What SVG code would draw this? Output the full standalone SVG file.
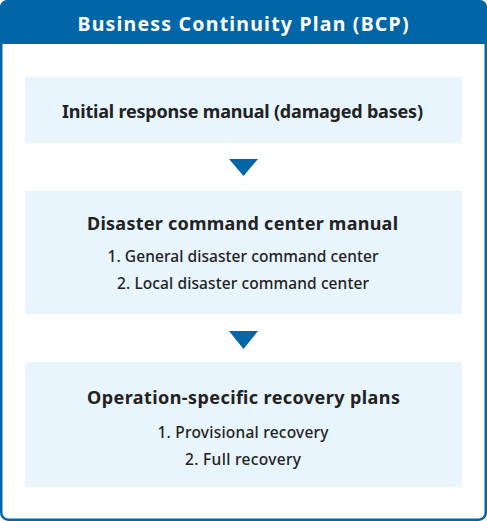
<svg xmlns="http://www.w3.org/2000/svg" width="487" height="521" viewBox="0 0 487 521">
<style>
.frame{fill:#fff;stroke:#0066a8;stroke-width:2.5}
.hdr{fill:#0066a8}
.box{fill:#e8f5fd}
.arrow{fill:#0066a8}
text{font-family:"Noto Sans",sans-serif;text-anchor:middle;fill:#222}
.h{font-size:19.5px;font-weight:700;fill:#fff}
.t{font-size:18px;font-weight:700}
.s{font-size:15.5px;font-weight:500}
</style>
<g id="frame">
<rect class="frame" x="1.25" y="1.25" width="484.5" height="518.5" rx="7"/>
<path class="hdr" d="M0 8 Q0 0 8 0 H479 Q487 0 487 8 V44 H0 Z"/>
<text class="h" x="243" y="31" textLength="331" lengthAdjust="spacing">Business Continuity Plan (BCP)</text>
</g>
<g id="node1">
<rect class="box" x="25" y="77" width="437" height="66"/>
<text class="t" x="242.5" y="117.5" textLength="361" lengthAdjust="spacing">Initial response manual (damaged bases)</text>
</g>
<g id="node2">
<rect class="box" x="25" y="191" width="437" height="123"/>
<text class="t" x="242.5" y="229.5" textLength="311" lengthAdjust="spacing">Disaster command center manual</text>
<text class="s" x="243" y="262" textLength="271" lengthAdjust="spacing">1. General disaster command center</text>
<text class="s" x="243" y="289" textLength="252" lengthAdjust="spacing">2. Local disaster command center</text>
</g>
<g id="node3">
<rect class="box" x="25" y="362" width="437" height="125"/>
<text class="t" x="243.5" y="404" textLength="313" lengthAdjust="spacing">Operation-specific recovery plans</text>
<text class="s" x="243" y="437.5" textLength="171" lengthAdjust="spacing">1. Provisional recovery</text>
<text class="s" x="243" y="464.5" textLength="116" lengthAdjust="spacing">2. Full recovery</text>
</g>
<g id="connectors">
<polygon class="arrow" points="229,159 258,159 243.5,176"/>
<polygon class="arrow" points="229,331 258,331 243.5,349"/>
</g>
</svg>
